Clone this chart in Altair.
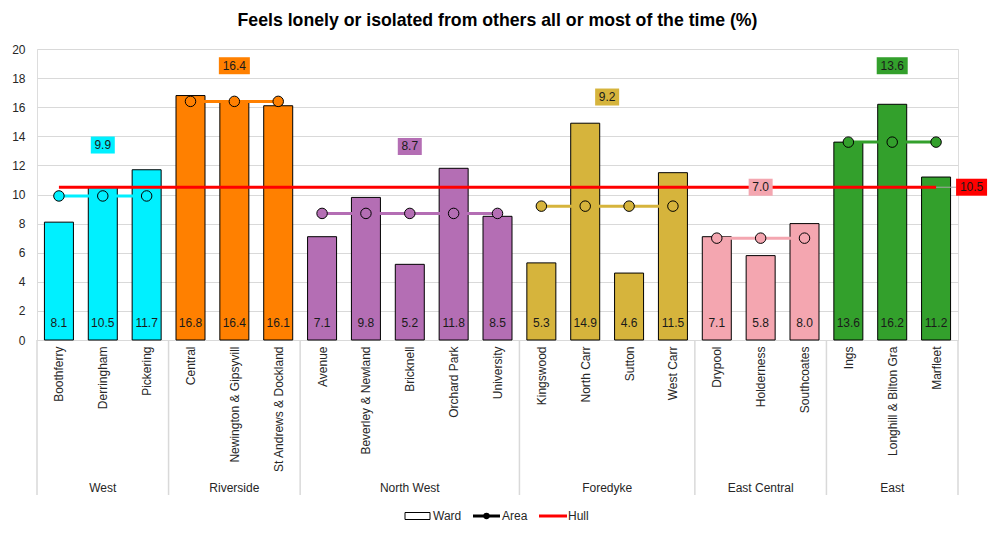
import altair as alt
import pandas as pd

# ---------------- data ----------------
areas = ["West", "Riverside", "North West", "Foredyke", "East Central", "East"]
area_sizes = [3, 3, 5, 4, 3, 3]
wards = ["Boothferry", "Derringham", "Pickering",
         "Central", "Newington & Gipsyvill", "St Andrews & Dockland",
         "Avenue", "Beverley & Newland", "Bricknell", "Orchard Park", "University",
         "Kingswood", "North Carr", "Sutton", "West Carr",
         "Drypool", "Holderness", "Southcoates",
         "Ings", "Longhill & Bilton Gra", "Marfleet"]
ward_values = [8.1, 10.5, 11.7,
               16.8, 16.4, 16.1,
               7.1, 9.8, 5.2, 11.8, 8.5,
               5.3, 14.9, 4.6, 11.5,
               7.1, 5.8, 8.0,
               13.6, 16.2, 11.2]
area_values = [9.9, 16.4, 8.7, 9.2, 7.0, 13.6]
area_label_y = [13.4, 18.85, 13.3, 16.7, 10.5, 18.85]
area_colors = ["#00F0FF", "#FF8000", "#B46EB4", "#D6B43C", "#F4A6B0", "#33A02C"]
hull_value = 10.5
y_ticks = [0, 2, 4, 6, 8, 10, 12, 14, 16, 18, 20]

# ---------------- geometry ----------------
W, H = 921, 291
n = len(wards)
px_per_x = W / n
px_per_y = H / 20.0

ward_area, ward_area_val = [], []
bounds = [0]
for a, s, v in zip(areas, area_sizes, area_values):
    ward_area += [a] * s
    ward_area_val += [v] * s
    bounds.append(bounds[-1] + s)

wdf = pd.DataFrame({
    "ward": wards,
    "center": [i + 0.5 for i in range(n)],
    "area": ward_area,
    "value": ward_values,
    "area_value": ward_area_val,
    "zero": [0] * n,
})

gdf = pd.DataFrame({
    "area": areas,
    "mid": [(bounds[i] + bounds[i + 1]) / 2 for i in range(len(areas))],
    "label": [f"{v:.1f}" for v in area_values],
    "ly": area_label_y,
})
gdf["hw"] = [(7 * len(t) + 3) / 2 / px_per_x for t in gdf["label"]]
gdf["x1"] = gdf["mid"] - gdf["hw"]
gdf["x2"] = gdf["mid"] + gdf["hw"]
gdf["y1"] = gdf["ly"] - 8.5 / px_per_y
gdf["y2"] = gdf["ly"] + 8.5 / px_per_y

sepdf = pd.DataFrame({"b": bounds})

color_scale = alt.Scale(domain=areas, range=area_colors)
xs = alt.Scale(domain=[0, n], nice=False, zero=False, padding=0)
ys = alt.Scale(domain=[0, 20], nice=False, zero=True, padding=0)

names_js = "[" + ",".join("'" + w + "'" for w in wards) + "]"
x_axis = alt.Axis(
    values=[i + 0.5 for i in range(n)],
    labelExpr=f"{names_js}[floor(datum.value)]",
    labelAngle=-90, labelAlign="right", labelBaseline="middle",
    labelFontSize=12, labelColor="#262626", labelFont="Liberation Sans",
    labelPadding=6, ticks=False, grid=False, domainColor="#d9d9d9",
    labelOverlap=False, labelFlush=False, labelBound=False, title=None,
)
y_axis = alt.Axis(
    values=y_ticks, title=None, grid=True, gridColor="#d9d9d9",
    domain=False, ticks=False, labelPadding=12, labelFontSize=12,
    labelColor="#262626", labelFont="Liberation Sans",
    labelOverlap=False, labelFlush=False, labelBound=False,
)


def X(field):
    return alt.X(field, scale=xs, axis=x_axis)


def Y(field):
    return alt.Y(field, scale=ys, axis=y_axis)


base = alt.Chart(wdf)

bars = base.mark_bar(width=29, stroke="black", strokeWidth=1).encode(
    x=X("center:Q"), y=Y("value:Q"),
    color=alt.Color("area:N", scale=color_scale, legend=None),
)

bar_text = base.mark_text(fontSize=12, font="Liberation Sans", color="#1a1a1a",
                          baseline="middle", dy=-17).encode(
    x=X("center:Q"), y=Y("zero:Q"),
    text=alt.Text("value:Q", format=".1f"),
)

hdf = pd.DataFrame({"x": [0.5], "x2": [n - 0.5], "y": [hull_value],
                    "cx2": [n - 0.5 + 20 / px_per_x]})
hull_line = alt.Chart(hdf).mark_rule(color="#FF0000", strokeWidth=3).encode(
    x=X("x:Q"), x2="x2:Q", y=Y("y:Q"))
hull_conn = alt.Chart(hdf).mark_rule(color="#a6a6a6", strokeWidth=1).encode(
    x=X("x2:Q"), x2="cx2:Q", y=Y("y:Q"))

hl = pd.DataFrame({"label": [f"{hull_value:.1f}"], "y": [hull_value]})
hl["x1"] = n - 0.5 + 20 / px_per_x
hl["x2"] = hl["x1"] + 31 / px_per_x
hl["xm"] = (hl["x1"] + hl["x2"]) / 2
hl["y1"] = hull_value - 8.5 / px_per_y
hl["y2"] = hull_value + 8.5 / px_per_y
hull_box = alt.Chart(hl).mark_rect(color="#FF0000").encode(
    x=X("x1:Q"), x2="x2:Q", y=Y("y1:Q"), y2="y2:Q")
hull_txt = alt.Chart(hl).mark_text(fontSize=12, font="Liberation Sans", color="#1a1a1a").encode(
    x=X("xm:Q"), y=Y("y:Q"), text="label:N")

area_lines = base.mark_line(strokeWidth=3).encode(
    x=X("center:Q"), y=Y("area_value:Q"),
    color=alt.Color("area:N", scale=color_scale, legend=None),
    detail="area:N",
)
area_pts = base.mark_circle(size=110, stroke="black", strokeWidth=1, opacity=1).encode(
    x=X("center:Q"), y=Y("area_value:Q"),
    color=alt.Color("area:N", scale=color_scale, legend=None),
)

area_box = alt.Chart(gdf).mark_rect().encode(
    x=X("x1:Q"), x2="x2:Q", y=Y("y1:Q"), y2="y2:Q",
    color=alt.Color("area:N", scale=color_scale, legend=None),
)
area_txt = alt.Chart(gdf).mark_text(fontSize=12, font="Liberation Sans", color="#1a1a1a").encode(
    x=X("mid:Q"), y=Y("ly:Q"), text="label:N")

seps = alt.Chart(sepdf).mark_rule(color="#d9d9d9", strokeWidth=1.5).encode(
    x=X("b:Q"), y=alt.value(H), y2=alt.value(H + 155))
group_txt = alt.Chart(gdf).mark_text(fontSize=12, font="Liberation Sans", color="#262626",
                                     baseline="middle").encode(
    x=X("mid:Q"), y=alt.value(H + 148), text="area:N")

# manual legend (pixel positions, relative to plot origin)
one = pd.DataFrame({"k": [0]})
LY = 467
leg_ward = alt.Chart(one).mark_rect(fill="white", stroke="black", strokeWidth=1).encode(
    x=alt.value(368), x2=alt.value(393), y=alt.value(LY - 3.5), y2=alt.value(LY + 3.5))
leg_area_line = alt.Chart(one).mark_rule(color="black", strokeWidth=3).encode(
    x=alt.value(436), x2=alt.value(463), y=alt.value(LY))
leg_area_dot = alt.Chart(one).mark_circle(color="black", size=40, opacity=1).encode(
    x=alt.value(449.5), y=alt.value(LY))
leg_hull = alt.Chart(one).mark_rule(color="#FF0000", strokeWidth=3).encode(
    x=alt.value(502), x2=alt.value(530), y=alt.value(LY))
leg_txt = alt.Chart(pd.DataFrame({"t": ["Ward", "Area", "Hull"], "px": [396, 465, 531]})).mark_text(
    fontSize=12, font="Liberation Sans", color="#262626", align="left", baseline="middle").encode(
    x=alt.X("px:Q", scale=None), y=alt.value(LY), text="t:N")

chart = alt.layer(
    bars, area_lines, area_pts, hull_line, hull_conn, hull_box, hull_txt,
    area_box, area_txt, bar_text, seps, group_txt,
    leg_ward, leg_area_line, leg_area_dot, leg_hull, leg_txt,
).properties(
    width=W, height=H,
    title=alt.TitleParams("Feels lonely or isolated from others all or most of the time (%)",
                          fontSize=17.7, font="Liberation Sans", fontWeight="bold",
                          color="black", anchor="middle", offset=13),
    autosize=alt.AutoSizeParams(type="none"),
    padding={"left": 37, "top": 49, "right": 32, "bottom": 193},
).configure_view(stroke=None).configure(background="white")

chart.save("out.html", embed_options={"renderer": "svg", "actions": False})
